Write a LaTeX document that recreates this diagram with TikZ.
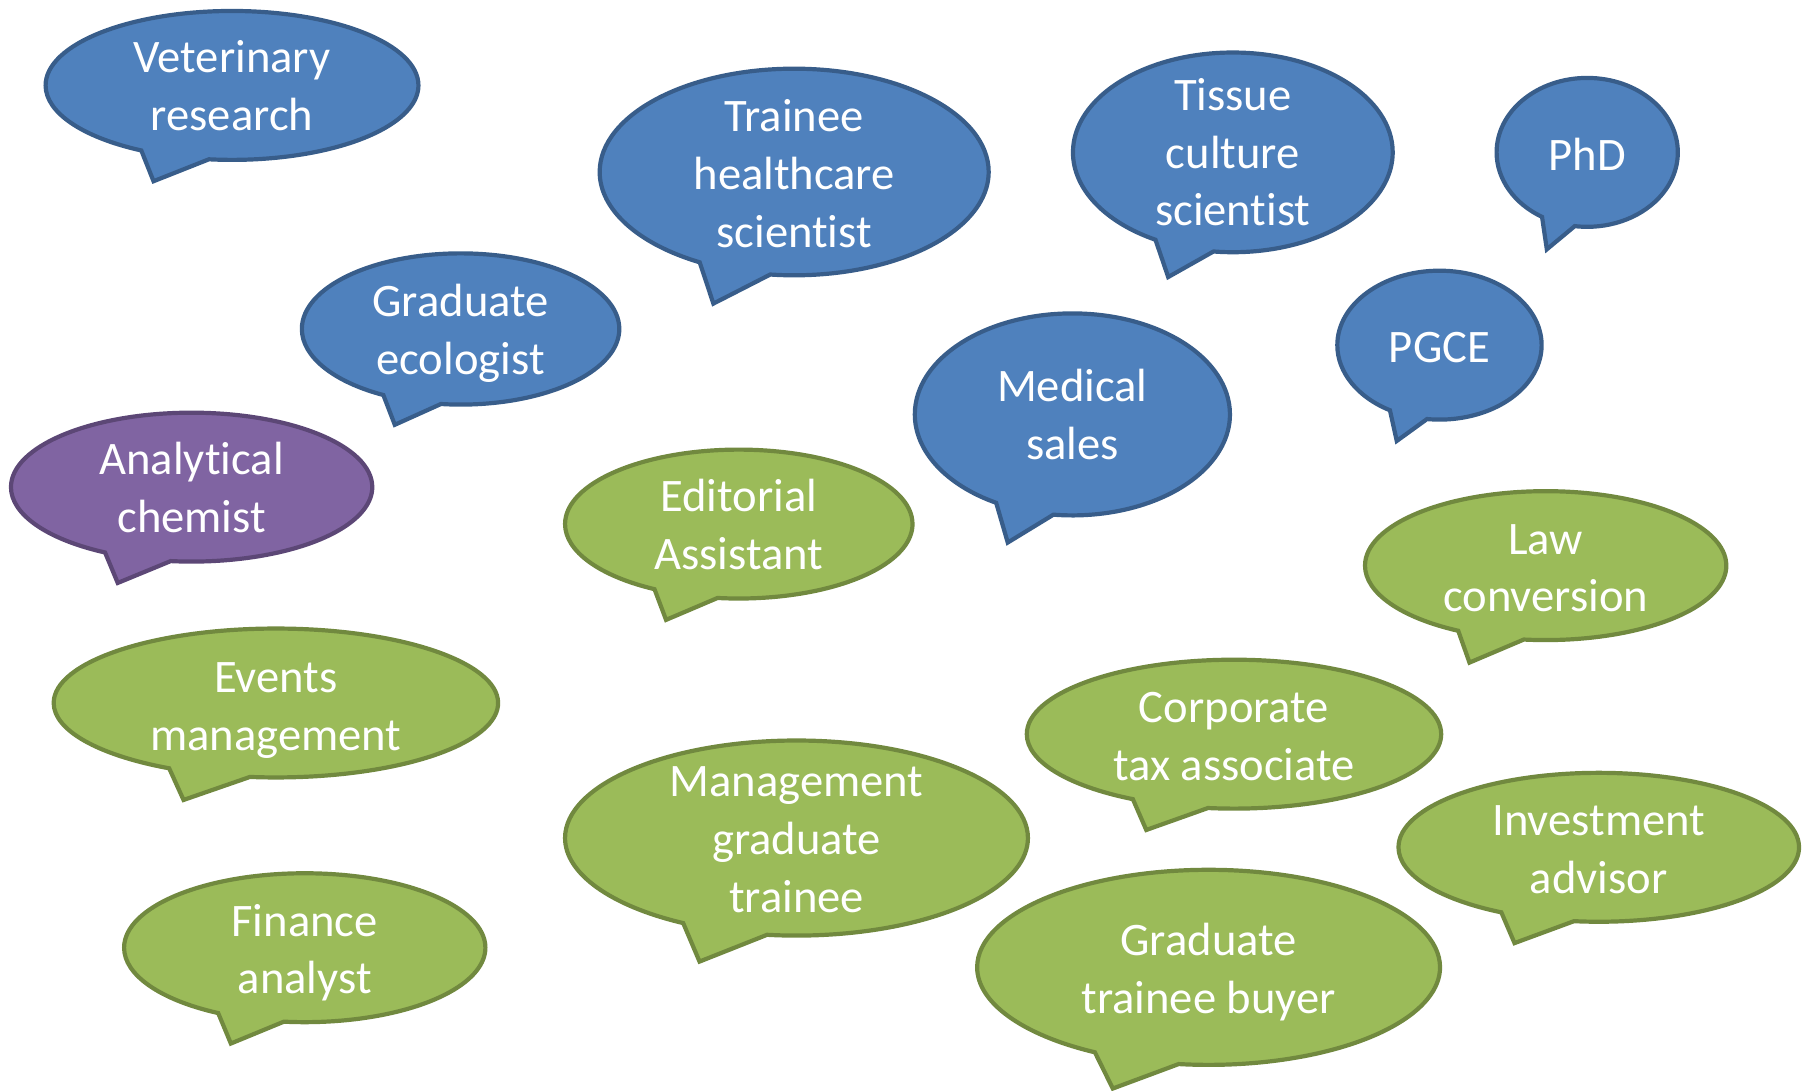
\documentclass[tikz,border=0pt]{standalone}
\usepackage{fontspec}
\setmainfont{Carlito}[Ligatures=NoCommon]
\usetikzlibrary{shapes.callouts}
\definecolor{bluef}{HTML}{4F81BD}
\definecolor{bluel}{HTML}{385D8A}
\definecolor{greenf}{HTML}{9BBB59}
\definecolor{greenl}{HTML}{71893F}
\definecolor{purplef}{HTML}{8064A2}
\definecolor{purplel}{HTML}{5C4776}
\tikzset{
  bub/.style={ellipse callout, draw, line width=2.1pt, inner sep=0pt, callout pointer arc=22},
  bluebub/.style={fill=bluef, draw=bluel},
  greenbub/.style={fill=greenf, draw=greenl},
  purplebub/.style={fill=purplef, draw=purplel},
  txt/.style={text=white, align=center, inner sep=0pt, font=\fontsize{23.3}{28.9}\selectfont,
    execute at begin node=\strut, execute at end node=\strut}
}
\newcommand\bubble[9]{%
  \node[bub,#2,minimum width={(2*#5-3)*0.5772pt},minimum height={(2*#6-3)*0.5772pt},callout absolute pointer={#7}] (#1) at (#3,#4) {};
  \node[txt] (#1t) at ([yshift=#9]#1.center) {#8};}
\begin{document}
\begin{tikzpicture}[x=0.5772pt,y=-0.5772pt]
\useasboundingbox (0,0) rectangle (1568,945);
\bubble{vet}{bluebub}{201}{74}{163}{66}{(133,157)}{Veterinary\\research}{-4.4pt}
\bubble{trainee}{bluebub}{688}{149}{170}{91}{(618,263)}{Trainee\\healthcare\\scientist}{-5pt}
\bubble{tissue}{bluebub}{1068}{132}{140}{88}{(1012,240)}{Tissue\\culture\\scientist}{-4.2pt}
\bubble{phd}{bluebub}{1375}{132}{80}{66}{(1340,216)}{PhD}{-3.1pt}
\bubble{ecol}{bluebub}{399}{285}{139}{67}{(342,368)}{Graduate\\ecologist}{-4.4pt}
\bubble{med}{bluebub}{929}{359}{138}{89}{(873,470)}{Medical\\sales}{-4.4pt}
\bubble{pgce}{bluebub}{1247}{299}{90}{66}{(1210,382)}{PGCE}{-3.1pt}
\bubble{anal}{purplebub}{166}{422}{158}{66}{(102,505)}{Analytical\\chemist}{-4.4pt}
\bubble{edit}{greenbub}{640}{454}{152}{66}{(577,537)}{Editorial\\Assistant}{-4.4pt}
\bubble{law}{greenbub}{1339}{490}{158}{66}{(1273,574)}{Law\\conversion}{-5.5pt}
\bubble{events}{greenbub}{239}{609}{194}{66}{(159,693)}{Events\\management}{-6.1pt}
\bubble{corp}{greenbub}{1069}{636}{181}{66}{(993,719)}{Corporate\\tax associate}{-5.5pt}
\bubble{mgmt}{greenbub}{690}{726}{202}{86}{(606,833)}{Management\\graduate\\trainee}{-5pt}
\bubble{inv}{greenbub}{1385}{734}{175}{66}{(1312,817)}{Investment\\advisor}{-5.5pt}
\bubble{fin}{greenbub}{264}{821}{158}{66}{(200,904)}{Finance\\analyst}{-5pt}
\bubble{buyer}{greenbub}{1047}{838}{202}{86}{(964,943)}{Graduate\\trainee buyer}{-5pt}
\end{tikzpicture}
\end{document}
